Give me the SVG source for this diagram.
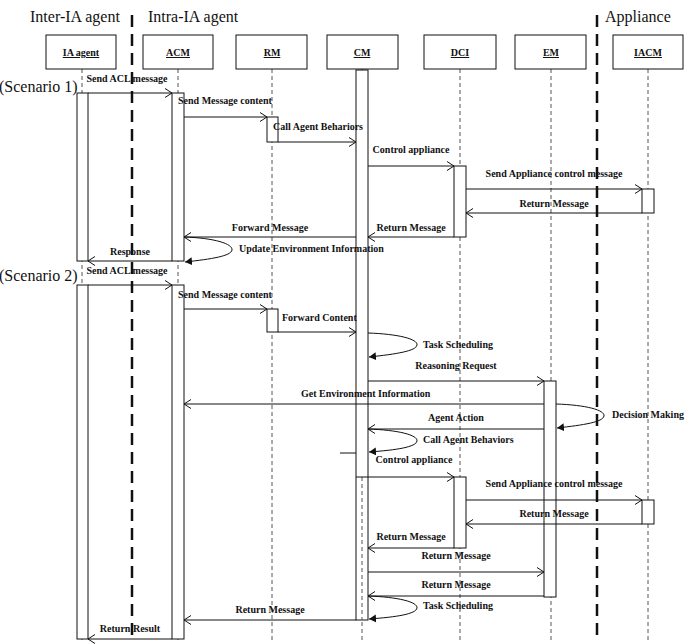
<svg xmlns="http://www.w3.org/2000/svg" width="688" height="644" viewBox="0 0 688 644">
<style>
text{font-family:"Liberation Serif","Times New Roman",serif;fill:#111}
.title{font-size:16px}
.lbl{font-size:10px;font-weight:bold;text-anchor:middle;text-decoration:underline}
.msg{font-size:10px;font-weight:bold}
.m{text-anchor:middle}
.box{fill:#fff;stroke:#111;stroke-width:1}
.life{stroke:#555;stroke-width:1;stroke-dasharray:4,3;fill:none}
.sep{stroke:#111;stroke-width:2.5;stroke-dasharray:12,7;fill:none}
.bar{fill:#fff;stroke:#111;stroke-width:1}
.arr{stroke:#111;stroke-width:1;fill:none;marker-end:url(#open)}
.loop{stroke:#111;stroke-width:1;fill:none;marker-end:url(#fill)}
</style>
<defs>
<marker id="open" markerUnits="userSpaceOnUse" markerWidth="10" markerHeight="12" refX="8" refY="5" orient="auto">
<path d="M1,0.5 L8,5 L1,9.5" fill="none" stroke="#111" stroke-width="1"/>
</marker>
<marker id="fill" markerUnits="userSpaceOnUse" markerWidth="10" markerHeight="10" refX="7" refY="4" orient="auto">
<path d="M0,0 L7,4 L0,8 Z" fill="#111"/>
</marker>
</defs>
<rect width="688" height="644" fill="#fff"/>

<g id="titles">
<text class="title" x="30" y="22">Inter-IA agent</text>
<text class="title" x="148" y="22">Intra-IA agent</text>
<text class="title" x="605" y="22">Appliance</text>
<text class="title" x="-1" y="92">(Scenario 1)</text>
<text class="title" x="-1" y="281">(Scenario 2)</text>
</g>

<g id="separators">
<line class="sep" x1="132" y1="15" x2="132" y2="640"/>
<line class="sep" x1="597" y1="15" x2="597" y2="640"/>
</g>

<g id="lifelines">
<line class="life" x1="82" y1="69" x2="82" y2="641"/>
<line class="life" x1="178" y1="69" x2="178" y2="641"/>
<line class="life" x1="272" y1="69" x2="272" y2="641"/>
<line class="life" x1="362" y1="69" x2="362" y2="641"/>
<line class="life" x1="460" y1="69" x2="460" y2="641"/>
<line class="life" x1="551" y1="69" x2="551" y2="641"/>
<line class="life" x1="648" y1="69" x2="648" y2="641"/>
</g>

<g id="node-ia-agent"><rect class="box" x="46" y="35" width="70" height="34"/><text class="lbl" x="81" y="56">IA agent</text></g>
<g id="node-acm"><rect class="box" x="143" y="35" width="70" height="34"/><text class="lbl" x="178" y="56">ACM</text></g>
<g id="node-rm"><rect class="box" x="236" y="35" width="71" height="34"/><text class="lbl" x="272" y="56">RM</text></g>
<g id="node-cm"><rect class="box" x="327" y="35" width="71" height="34"/><text class="lbl" x="362" y="56">CM</text></g>
<g id="node-dci"><rect class="box" x="424" y="35" width="72" height="34"/><text class="lbl" x="460" y="56">DCI</text></g>
<g id="node-em"><rect class="box" x="515" y="35" width="71" height="34"/><text class="lbl" x="551" y="56">EM</text></g>
<g id="node-iacm"><rect class="box" x="613" y="35" width="70" height="34"/><text class="lbl" x="648" y="56">IACM</text></g>

<g id="activations">
<rect class="bar" x="77" y="93" width="11" height="168"/>
<rect class="bar" x="172" y="93" width="12" height="168"/>
<rect class="bar" x="267" y="117" width="11" height="25"/>
<rect class="bar" x="356" y="70" width="12" height="550"/>
<rect class="bar" x="454" y="166" width="12" height="71"/>
<rect class="bar" x="642" y="189" width="12" height="24"/>
<rect class="bar" x="77" y="285" width="11" height="354"/>
<rect class="bar" x="172" y="285" width="12" height="354"/>
<rect class="bar" x="267" y="309" width="11" height="23"/>
<rect class="bar" x="544" y="381" width="12" height="216"/>
<rect class="bar" x="454" y="477" width="12" height="71"/>
<rect class="bar" x="642" y="500" width="12" height="24"/>
<line class="life" x1="362" y1="477" x2="362" y2="620"/>
</g>

<g id="connectors">
<!-- Scenario 1 -->
<line class="arr" x1="88" y1="93" x2="172" y2="93"/>
<line class="arr" x1="184" y1="117" x2="267" y2="117"/>
<line class="arr" x1="278" y1="142" x2="356" y2="142"/>
<line class="arr" x1="368" y1="166" x2="454" y2="166"/>
<line class="arr" x1="466" y1="189" x2="642" y2="189"/>
<line class="arr" x1="642" y1="213" x2="466" y2="213"/>
<line class="arr" x1="454" y1="237" x2="368" y2="237"/>
<line class="arr" x1="356" y1="237" x2="184" y2="237"/>
<path class="loop" d="M184,237 C215,238 233,244 232,250 C231,256 212,259 185,262"/>
<line class="arr" x1="172" y1="261" x2="88" y2="261"/>
<!-- Scenario 2 -->
<line class="arr" x1="88" y1="285" x2="172" y2="285"/>
<line class="arr" x1="184" y1="309" x2="267" y2="309"/>
<line class="arr" x1="278" y1="332" x2="356" y2="332"/>
<path class="loop" d="M368,333 C398,334 418,339 417,345 C416,351 397,354 369,357"/>
<line class="arr" x1="368" y1="381" x2="544" y2="381"/>
<line class="arr" x1="544" y1="404" x2="184" y2="404"/>
<path class="loop" d="M556,404 C586,405 605,410 604,416 C603,422 584,425 557,428"/>
<line class="arr" x1="544" y1="429" x2="368" y2="429"/>
<path class="loop" d="M368,429 C398,430 418,435 417,441 C416,447 397,450 369,452"/>
<line stroke="#111" stroke-width="1" x1="340" y1="453" x2="356" y2="453"/>
<line class="arr" x1="356" y1="477" x2="454" y2="477"/>
<line class="arr" x1="466" y1="500" x2="642" y2="500"/>
<line class="arr" x1="642" y1="524" x2="466" y2="524"/>
<line class="arr" x1="454" y1="548" x2="368" y2="548"/>
<line class="arr" x1="368" y1="572" x2="544" y2="572"/>
<line class="arr" x1="544" y1="596" x2="368" y2="596"/>
<path class="loop" d="M368,596 C398,597 418,602 417,608 C416,614 397,617 369,619"/>
<line class="arr" x1="356" y1="620" x2="184" y2="620"/>
<line class="arr" x1="172" y1="639" x2="88" y2="639"/>
</g>

<g id="labels">
<text class="msg m" x="127" y="82">Send ACL message</text>
<text class="msg m" x="225" y="104">Send Message content</text>
<text class="msg" x="273" y="130">Call Agent Behariors</text>
<text class="msg m" x="411" y="153">Control appliance</text>
<text class="msg m" x="554" y="177">Send Appliance control message</text>
<text class="msg m" x="554" y="207">Return Message</text>
<text class="msg m" x="411" y="231">Return Message</text>
<text class="msg m" x="270" y="231">Forward Message</text>
<text class="msg" x="239" y="252">Update Environment Information</text>
<text class="msg m" x="130" y="255">Response</text>
<text class="msg m" x="127" y="274">Send ACL message</text>
<text class="msg m" x="225" y="298">Send Message content</text>
<text class="msg" x="282" y="321">Forward Content</text>
<text class="msg" x="423" y="348">Task Scheduling</text>
<text class="msg m" x="456" y="369">Reasoning Request</text>
<text class="msg" x="301" y="397">Get Environment Information</text>
<text class="msg" x="612" y="418">Decision Making</text>
<text class="msg m" x="456" y="421">Agent Action</text>
<text class="msg" x="423" y="443">Call Agent Behaviors</text>
<text class="msg m" x="414" y="463">Control appliance</text>
<text class="msg m" x="554" y="487">Send Appliance control message</text>
<text class="msg m" x="554" y="517">Return Message</text>
<text class="msg m" x="411" y="540">Return Message</text>
<text class="msg m" x="456" y="559">Return Message</text>
<text class="msg m" x="456" y="588">Return Message</text>
<text class="msg" x="423" y="609">Task Scheduling</text>
<text class="msg m" x="270" y="613">Return Message</text>
<text class="msg m" x="130" y="632">Return Result</text>
</g>
</svg>
